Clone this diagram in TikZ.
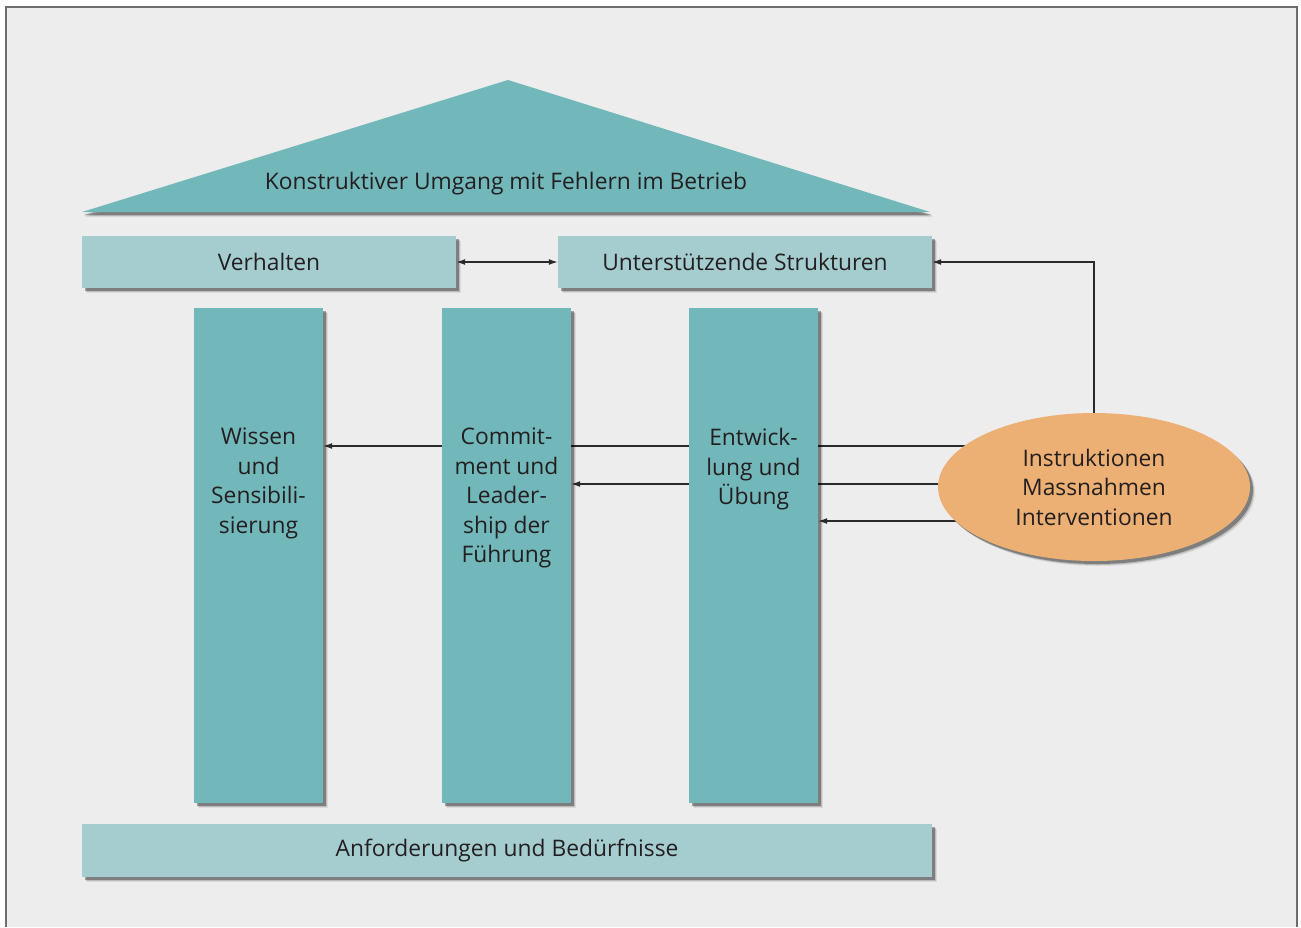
\documentclass[tikz,border=0pt]{standalone}
\usepackage{fontspec}
\setmainfont{Open Sans}
\usetikzlibrary{arrows.meta,shapes.geometric,shadows,backgrounds}
\definecolor{bgc}{HTML}{EDEDED}
\definecolor{tealA}{HTML}{72B7B9}
\definecolor{tealB}{HTML}{A5CDCF}
\definecolor{orng}{HTML}{EDB074}
\definecolor{txt}{HTML}{231F20}
\definecolor{framec}{HTML}{6D6D6D}
\definecolor{linec}{HTML}{2A2A2A}
\begin{document}
\begin{tikzpicture}[x=1pt,y=-1pt,
  shad/.style={
    drop shadow={shadow xshift=5pt,shadow yshift=-5pt,fill=black,opacity=0.08},
    drop shadow={shadow xshift=4pt,shadow yshift=-4pt,fill=black,opacity=0.14},
    drop shadow={shadow xshift=3pt,shadow yshift=-3pt,fill=black,opacity=0.32}},
  lbl/.style={font=\fontsize{22.8pt}{29.5pt}\selectfont, text=txt, align=center},
  pillar/.style={fill=tealA,minimum width=129pt,minimum height=495pt,inner sep=0pt,shad},
  beam/.style={fill=tealB,minimum height=52pt,inner sep=0pt,shad,lbl},
  plabel/.style={lbl,anchor=north,inner sep=0pt},
  arr/.style={draw=linec,line width=1.3pt,-{Latex[length=9pt,width=6pt]}},
  darr/.style={draw=linec,line width=1.3pt,{Latex[length=9pt,width=6pt]}-{Latex[length=9pt,width=6pt]}}
]
\useasboundingbox (0,0) rectangle (1301,927);
\begin{scope}[on background layer]
  \fill[bgc] (6,7) rectangle (1297,927);
  \draw[framec,line width=1.2pt] (6,927) -- (6,7) -- (1297,7) -- (1297,927);
\end{scope}

% roof with soft shadow
\foreach \d/\o in {5/0.08,4/0.14,3/0.32}{
  \fill[black,opacity=\o] (82+\d*0.6,212+\d) -- (508,80+\d) -- (930+\d*0.6,212+\d) -- cycle;
}
\fill[tealA] (82,212) -- (508,80) -- (930,212) -- cycle;
\node[lbl] (roof) at (506,184) {Konstruktiver Umgang mit Fehlern im Betrieb};

% beams
\node[beam,minimum width=374pt] (verh) at (269,262) {Verhalten};
\node[beam,minimum width=374pt] (unter) at (745,262) {Unterstützende Strukturen};
\node[beam,minimum width=850pt,minimum height=53pt] (anf) at (507,850.5) {Anforderungen und Bedürfnisse};

% pillars
\node[pillar] (wissen) at (258.5,555.5) {};
\node[pillar] (comm) at (506.5,555.5) {};
\node[pillar] (entw) at (753.5,555.5) {};
\node[plabel] (wissenL) at (258.5,428) {Wissen\\und\\Sensibili-\\sierung};
\node[plabel] (commL) at (506.5,428) {Commit-\\ment und\\Leader-\\ship der\\Führung};
\node[plabel] (entwL) at (753.5,428) {Entwick-\\lung und\\Übung};

% ellipse
\node[ellipse,fill=orng,minimum width=312pt,minimum height=148pt,inner sep=0pt,shad,lbl] (inst) at (1094,487) {Instruktionen\\Massnahmen\\Interventionen};

% connectors
\draw[darr] (verh.east) -- (unter.west);
\begin{scope}[on background layer]
  \draw[arr] (inst.north) -- (inst.north |- unter.east) -- (unter.east);
  \draw[arr] ([yshift=41pt]inst.center) -- ([yshift=41pt]inst.center -| wissen.east);
  \draw[arr] ([yshift=3pt]inst.center) -- ([yshift=3pt]inst.center -| comm.east);
  \draw[arr] ([yshift=-34pt]inst.center) -- ([yshift=-34pt]inst.center -| entw.east);
\end{scope}
\end{tikzpicture}
\end{document}
